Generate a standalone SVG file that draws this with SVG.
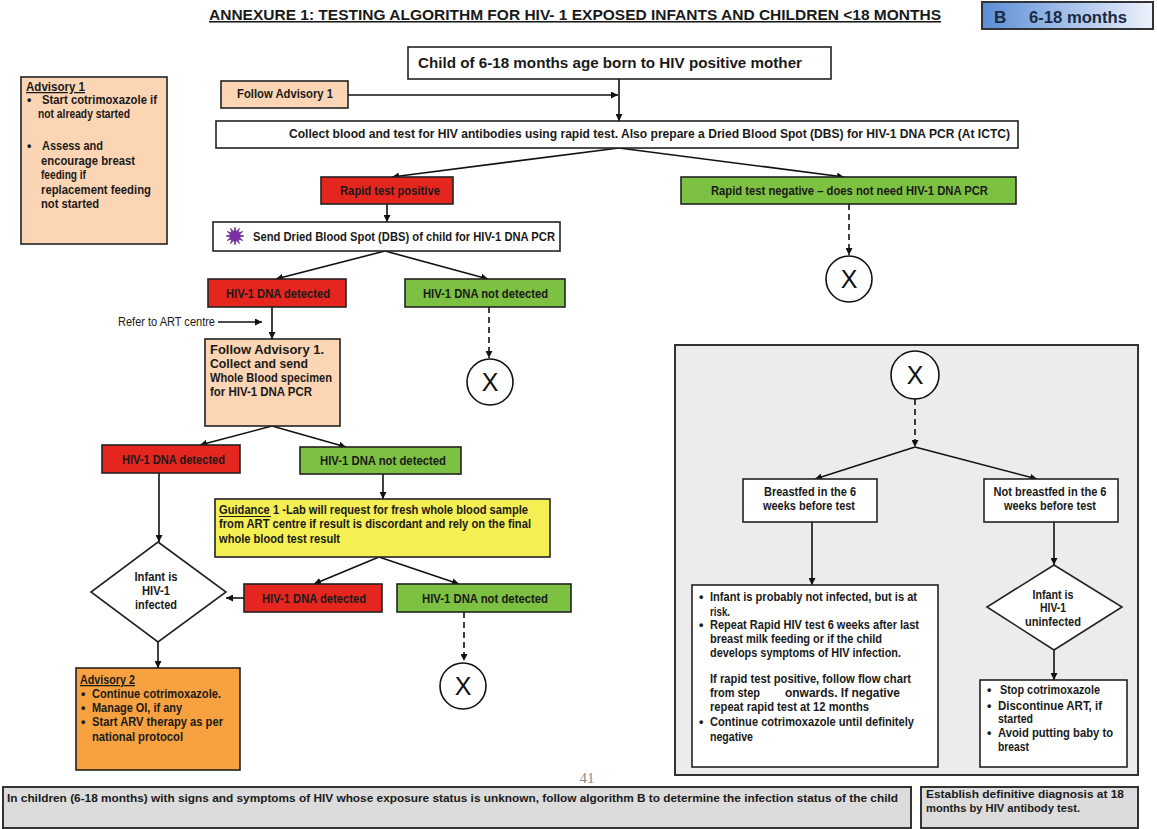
<svg xmlns="http://www.w3.org/2000/svg" width="1157" height="829" viewBox="0 0 1157 829">
<defs>
<style>
.t{font-family:"Liberation Sans",Arial,sans-serif;font-weight:bold;fill:#1a1a1a;font-size:12.5px}
.c{text-anchor:middle}
.bx{stroke:#222;stroke-width:1.6}
.w{fill:#fff}
.peach{fill:#fcd5b4}
.red{fill:#e5261f}
.green{fill:#7dc142}
.yellow{fill:#f4ef52}
.orange{fill:#f7a140}
.grey{fill:#dcdcdc}
.cn{stroke:#111;stroke-width:1.6;fill:none}
.dash{stroke-dasharray:6 4}
.xc{fill:#fff;stroke:#111;stroke-width:1.6}
.xt{font-family:"Liberation Sans",Arial,sans-serif;font-size:25px;text-anchor:middle;fill:#111}
</style>
<linearGradient id="bg" x1="0" y1="0" x2="1" y2="0">
<stop offset="0" stop-color="#5a8ed6"/>
<stop offset="1" stop-color="#eef1fb"/>
</linearGradient>
<marker id="ah" viewBox="0 0 10 10" refX="10" refY="5" markerWidth="7" markerHeight="7" markerUnits="userSpaceOnUse" orient="auto">
<path d="M0,0 L10,5 L0,10 z" fill="#111"/>
</marker>
</defs>
<rect width="1157" height="829" fill="#fff"/>

<g id="title">
<text class="t" x="209" y="20" text-decoration="underline" textLength="732" lengthAdjust="spacingAndGlyphs" style="font-size:15.5px">ANNEXURE 1: TESTING ALGORITHM FOR HIV- 1 EXPOSED INFANTS AND CHILDREN &lt;18 MONTHS</text>
</g>

<g id="badge">
<rect x="982" y="2" width="171" height="27" fill="url(#bg)" stroke="#333" stroke-width="2"/>
<text class="t" x="994" y="23" style="font-size:17px;fill:#1b2a44">B</text>
<text class="t" x="1029" y="23" textLength="98" lengthAdjust="spacingAndGlyphs" style="font-size:17px;fill:#1b2a44">6-18 months</text>
</g>

<g id="connectors">
<line class="cn" x1="619" y1="79" x2="619" y2="121" marker-end="url(#ah)"/>
<line class="cn" x1="348" y1="95" x2="618" y2="95" marker-end="url(#ah)"/>
<line class="cn" x1="619" y1="148" x2="392" y2="177" marker-end="url(#ah)"/>
<line class="cn" x1="619" y1="148" x2="844" y2="177" marker-end="url(#ah)"/>
<line class="cn" x1="387" y1="204" x2="387" y2="222" marker-end="url(#ah)"/>
<line class="cn dash" x1="849" y1="204" x2="849" y2="255" marker-end="url(#ah)"/>
<line class="cn" x1="385" y1="251" x2="276" y2="279" marker-end="url(#ah)"/>
<line class="cn" x1="385" y1="251" x2="488" y2="279" marker-end="url(#ah)"/>
<line class="cn dash" x1="489" y1="307" x2="489" y2="358" marker-end="url(#ah)"/>
<line class="cn" x1="218" y1="322" x2="262" y2="322" marker-end="url(#ah)"/>
<line class="cn" x1="272" y1="307" x2="272" y2="339" marker-end="url(#ah)"/>
<line class="cn" x1="272" y1="426" x2="200" y2="445" marker-end="url(#ah)"/>
<line class="cn" x1="272" y1="426" x2="346" y2="447" marker-end="url(#ah)"/>
<line class="cn" x1="383" y1="474" x2="383" y2="499" marker-end="url(#ah)"/>
<line class="cn" x1="159" y1="473" x2="159" y2="542" marker-end="url(#ah)"/>
<line class="cn" x1="379" y1="557" x2="314" y2="584" marker-end="url(#ah)"/>
<line class="cn" x1="379" y1="557" x2="459" y2="584" marker-end="url(#ah)"/>
<line class="cn" x1="244" y1="598" x2="226" y2="598" marker-end="url(#ah)"/>
<line class="cn dash" x1="464" y1="612" x2="464" y2="661" marker-end="url(#ah)"/>
<line class="cn" x1="158" y1="642" x2="158" y2="668" marker-end="url(#ah)"/>
</g>

<g id="advisory1">
<rect class="bx peach" x="21" y="77" width="146" height="167"/>
<text class="t" x="26" y="91" text-decoration="underline" textLength="59" lengthAdjust="spacingAndGlyphs">Advisory 1</text>
<text class="t" x="27" y="104">•</text>
<text class="t" x="42" y="104" textLength="115" lengthAdjust="spacingAndGlyphs">Start cotrimoxazole  if</text>
<text class="t" x="38" y="118" textLength="92" lengthAdjust="spacingAndGlyphs">not already  started</text>
<text class="t" x="27" y="150">•</text>
<text class="t" x="42" y="150" textLength="61" lengthAdjust="spacingAndGlyphs">Assess  and</text>
<text class="t" x="41" y="165" textLength="94" lengthAdjust="spacingAndGlyphs">encourage  breast</text>
<text class="t" x="41" y="179" textLength="45" lengthAdjust="spacingAndGlyphs">feeding if</text>
<text class="t" x="41" y="194" textLength="110" lengthAdjust="spacingAndGlyphs">replacement   feeding</text>
<text class="t" x="41" y="208" textLength="58" lengthAdjust="spacingAndGlyphs">not started</text>
</g>

<g id="child">
<rect class="bx w" x="408" y="47" width="423" height="32"/>
<text class="t" x="418" y="68" textLength="384" lengthAdjust="spacingAndGlyphs" style="font-size:14.5px">Child of 6-18 months age born to HIV positive mother</text>
</g>

<g id="follow-advisory">
<rect class="bx peach" x="221" y="81" width="127" height="27"/>
<text class="t" x="237" y="98" textLength="96" lengthAdjust="spacingAndGlyphs">Follow Advisory 1</text>
</g>

<g id="collect">
<rect class="bx w" x="216" y="121" width="802" height="27"/>
<text class="t" x="289" y="138" textLength="721" lengthAdjust="spacingAndGlyphs" style="font-size:12px">Collect blood and test for HIV antibodies using rapid test. Also prepare a Dried Blood Spot (DBS) for HIV-1 DNA PCR (At ICTC)</text>
</g>

<g id="rapid-positive">
<rect class="bx red" x="321" y="177" width="132" height="27"/>
<text class="t c" x="390" y="195" textLength="100" lengthAdjust="spacingAndGlyphs">Rapid test positive</text>
</g>

<g id="rapid-negative">
<rect class="bx green" x="681" y="177" width="335" height="27"/>
<text class="t" x="711" y="195" textLength="277" lengthAdjust="spacingAndGlyphs">Rapid test negative – does not need HIV-1 DNA PCR</text>
</g>

<g id="x1">
<circle class="xc" cx="849" cy="279" r="23"/>
<text class="xt" x="849" y="288">X</text>
</g>

<g id="dbs">
<rect class="bx w" x="213" y="222" width="347" height="29"/>
<polygon fill="#7a2fa8" stroke="#5a1f80" stroke-width="0.6" points="244,236 239.35,237.17 242.79,240.5 238.18,239.18 239.5,243.79 236.17,240.35 235,245 233.83,240.35 230.5,243.79 231.82,239.18 227.21,240.5 230.65,237.17 226,236 230.65,234.83 227.21,231.5 231.82,232.82 230.5,228.21 233.83,231.65 235,227 236.17,231.65 239.5,228.21 238.18,232.82 242.79,231.5 239.35,234.83"/>
<text class="t" x="253" y="241" textLength="302" lengthAdjust="spacingAndGlyphs" style="font-size:13px">Send Dried Blood Spot (DBS) of child for HIV-1 DNA PCR</text>
</g>

<g id="detected1">
<rect class="bx red" x="208" y="279" width="138" height="28"/>
<text class="t" x="226" y="298" textLength="104" lengthAdjust="spacingAndGlyphs">HIV-1 DNA detected</text>
</g>

<g id="not-detected1">
<rect class="bx green" x="405" y="279" width="160" height="28"/>
<text class="t" x="423" y="298" textLength="125" lengthAdjust="spacingAndGlyphs">HIV-1 DNA not detected</text>
</g>

<g id="x2">
<circle class="xc" cx="490" cy="382" r="23"/>
<text class="xt" x="490" y="391">X</text>
</g>

<g id="refer">
<text class="t" x="118" y="326" textLength="97" lengthAdjust="spacingAndGlyphs" style="font-weight:normal;font-size:12px">Refer to ART centre</text>
</g>

<g id="follow-collect">
<rect class="bx peach" x="205" y="339" width="135" height="87"/>
<text class="t" x="210" y="354" textLength="114" lengthAdjust="spacingAndGlyphs" style="font-size:13px">Follow Advisory 1.</text>
<text class="t" x="210" y="368" textLength="98" lengthAdjust="spacingAndGlyphs" style="font-size:13px">Collect and send</text>
<text class="t" x="210" y="382" textLength="122" lengthAdjust="spacingAndGlyphs" style="font-size:13px">Whole Blood specimen</text>
<text class="t" x="210" y="396" textLength="102" lengthAdjust="spacingAndGlyphs" style="font-size:13px">for HIV-1 DNA PCR</text>
</g>

<g id="detected2">
<rect class="bx red" x="102" y="445" width="138" height="28"/>
<text class="t" x="122" y="464" textLength="103" lengthAdjust="spacingAndGlyphs">HIV-1 DNA detected</text>
</g>

<g id="not-detected2">
<rect class="bx green" x="300" y="447" width="161" height="27"/>
<text class="t" x="320" y="465" textLength="126" lengthAdjust="spacingAndGlyphs">HIV-1 DNA not detected</text>
</g>

<g id="guidance">
<rect class="bx yellow" x="215" y="499" width="335" height="58"/>
<text class="t" x="219" y="514" textLength="309" lengthAdjust="spacingAndGlyphs">Guidance 1 -Lab will request for fresh whole blood sample</text>
<line x1="219" y1="516.5" x2="271" y2="516.5" stroke="#1a1a1a" stroke-width="1"/>
<text class="t" x="219" y="528" textLength="312" lengthAdjust="spacingAndGlyphs">from ART centre if result is discordant  and rely on the final</text>
<text class="t" x="219" y="543" textLength="121" lengthAdjust="spacingAndGlyphs">whole blood test result</text>
</g>

<g id="infected">
<polygon class="bx w" points="158,542 226,592 158,642 91,592"/>
<text class="t c" x="156" y="581" textLength="43" lengthAdjust="spacingAndGlyphs">Infant is</text>
<text class="t c" x="156" y="595" textLength="28" lengthAdjust="spacingAndGlyphs">HIV-1</text>
<text class="t c" x="156" y="609" textLength="42" lengthAdjust="spacingAndGlyphs">infected</text>
</g>

<g id="detected3">
<rect class="bx red" x="244" y="584" width="138" height="28"/>
<text class="t" x="262" y="603" textLength="104" lengthAdjust="spacingAndGlyphs">HIV-1 DNA detected</text>
</g>

<g id="not-detected3">
<rect class="bx green" x="397" y="584" width="174" height="28"/>
<text class="t" x="422" y="603" textLength="126" lengthAdjust="spacingAndGlyphs">HIV-1 DNA not detected</text>
</g>

<g id="x3">
<circle class="xc" cx="463" cy="686" r="23"/>
<text class="xt" x="463" y="695">X</text>
</g>

<g id="advisory2">
<rect class="bx orange" x="76" y="668" width="164" height="102"/>
<text class="t" x="80" y="684" text-decoration="underline" textLength="55" lengthAdjust="spacingAndGlyphs">Advisory 2</text>
<text class="t" x="81" y="698">•</text>
<text class="t" x="92" y="698" textLength="129" lengthAdjust="spacingAndGlyphs">Continue cotrimoxazole.</text>
<text class="t" x="81" y="712">•</text>
<text class="t" x="92" y="712" textLength="90" lengthAdjust="spacingAndGlyphs">Manage OI, if any</text>
<text class="t" x="81" y="726">•</text>
<text class="t" x="92" y="726" textLength="131" lengthAdjust="spacingAndGlyphs">Start ARV therapy as per</text>
<text class="t" x="92" y="741" textLength="91" lengthAdjust="spacingAndGlyphs">national protocol</text>
</g>

<g id="panel">
<rect x="675" y="345" width="463" height="430" fill="#ececec" stroke="#333" stroke-width="2"/>
<g id="panel-connectors">
<line class="cn dash" x1="915" y1="399" x2="915" y2="447" marker-end="url(#ah)"/>
<line class="cn" x1="915" y1="447" x2="815" y2="479" marker-end="url(#ah)"/>
<line class="cn" x1="915" y1="447" x2="1037" y2="479" marker-end="url(#ah)"/>
<line class="cn" x1="812" y1="522" x2="812" y2="585" marker-end="url(#ah)"/>
<line class="cn" x1="1054" y1="522" x2="1054" y2="565" marker-end="url(#ah)"/>
<line class="cn" x1="1054" y1="650" x2="1054" y2="680" marker-end="url(#ah)"/>
</g>
<g id="x4">
<circle class="xc" cx="915" cy="375" r="24"/>
<text class="xt" x="915" y="384">X</text>
</g>
<g id="breastfed">
<rect class="bx w" x="743" y="479" width="134" height="43"/>
<text class="t c" x="810" y="496" textLength="92" lengthAdjust="spacingAndGlyphs">Breastfed in the 6</text>
<text class="t c" x="809" y="510" textLength="92" lengthAdjust="spacingAndGlyphs">weeks before test</text>
</g>
<g id="not-breastfed">
<rect class="bx w" x="984" y="479" width="134" height="43"/>
<text class="t c" x="1050" y="496" textLength="113" lengthAdjust="spacingAndGlyphs">Not breastfed in the 6</text>
<text class="t c" x="1050" y="510" textLength="92" lengthAdjust="spacingAndGlyphs">weeks before test</text>
</g>
<g id="at-risk">
<rect class="bx w" x="692" y="585" width="246" height="182"/>
<text class="t" x="699" y="601">•</text>
<text class="t" x="710" y="601" textLength="207" lengthAdjust="spacingAndGlyphs">Infant is probably not infected, but is at</text>
<text class="t" x="710" y="616" textLength="20" lengthAdjust="spacingAndGlyphs">risk.</text>
<text class="t" x="699" y="629">•</text>
<text class="t" x="710" y="629" textLength="209" lengthAdjust="spacingAndGlyphs">Repeat Rapid HIV test 6 weeks after last</text>
<text class="t" x="710" y="643" textLength="172" lengthAdjust="spacingAndGlyphs">breast milk feeding or if the child</text>
<text class="t" x="710" y="657" textLength="191" lengthAdjust="spacingAndGlyphs">develops symptoms of HIV infection.</text>
<text class="t" x="710" y="683" textLength="201" lengthAdjust="spacingAndGlyphs">If rapid test positive, follow flow chart</text>
<text class="t" x="710" y="697" textLength="50" lengthAdjust="spacingAndGlyphs">from step</text>
<text class="t" x="785" y="697" textLength="115" lengthAdjust="spacingAndGlyphs">onwards.  If negative</text>
<text class="t" x="710" y="711" textLength="159" lengthAdjust="spacingAndGlyphs">repeat rapid test  at 12 months</text>
<text class="t" x="699" y="726">•</text>
<text class="t" x="710" y="726" textLength="204" lengthAdjust="spacingAndGlyphs">Continue cotrimoxazole until definitely</text>
<text class="t" x="710" y="741" textLength="43" lengthAdjust="spacingAndGlyphs">negative</text>
</g>
<g id="uninfected">
<polygon class="bx w" points="1054,565 1122,607 1054,650 987,607"/>
<text class="t c" x="1053" y="599" textLength="41" lengthAdjust="spacingAndGlyphs">Infant is</text>
<text class="t c" x="1053" y="612" textLength="26" lengthAdjust="spacingAndGlyphs">HIV-1</text>
<text class="t c" x="1053" y="626" textLength="56" lengthAdjust="spacingAndGlyphs">uninfected</text>
</g>
<g id="stop">
<rect class="bx w" x="980" y="680" width="147" height="87"/>
<text class="t" x="987" y="694">•</text>
<text class="t" x="1000" y="694" textLength="100" lengthAdjust="spacingAndGlyphs">Stop cotrimoxazole</text>
<text class="t" x="987" y="710">•</text>
<text class="t" x="998" y="710" textLength="104" lengthAdjust="spacingAndGlyphs">Discontinue ART, if</text>
<text class="t" x="998" y="723" textLength="35" lengthAdjust="spacingAndGlyphs">started</text>
<text class="t" x="987" y="737">•</text>
<text class="t" x="998" y="737" textLength="115" lengthAdjust="spacingAndGlyphs">Avoid putting baby to</text>
<text class="t" x="998" y="751" textLength="31" lengthAdjust="spacingAndGlyphs">breast</text>
</g>
</g>

<g id="page-number">
<text x="587" y="783" text-anchor="middle" style="font-family:'Liberation Serif','Times New Roman',serif;font-size:15px;fill:#8a8a8a">41</text>
</g>

<g id="note-unknown">
<rect class="grey" x="3" y="787" width="908" height="41" stroke="#333" stroke-width="2"/>
<text class="t" x="7" y="802" textLength="891" lengthAdjust="spacingAndGlyphs" style="font-size:11.5px">In children  (6-18 months) with signs and symptoms of HIV whose exposure status is unknown, follow algorithm B to determine the infection status of the child</text>
</g>

<g id="note-definitive">
<rect class="grey" x="921" y="787" width="217" height="41" stroke="#333" stroke-width="2"/>
<text class="t" x="926" y="798" textLength="198" lengthAdjust="spacingAndGlyphs" style="font-size:11.5px">Establish definitive diagnosis at 18</text>
<text class="t" x="926" y="812" textLength="154" lengthAdjust="spacingAndGlyphs" style="font-size:11.5px">months by HIV antibody test.</text>
</g>
</svg>
